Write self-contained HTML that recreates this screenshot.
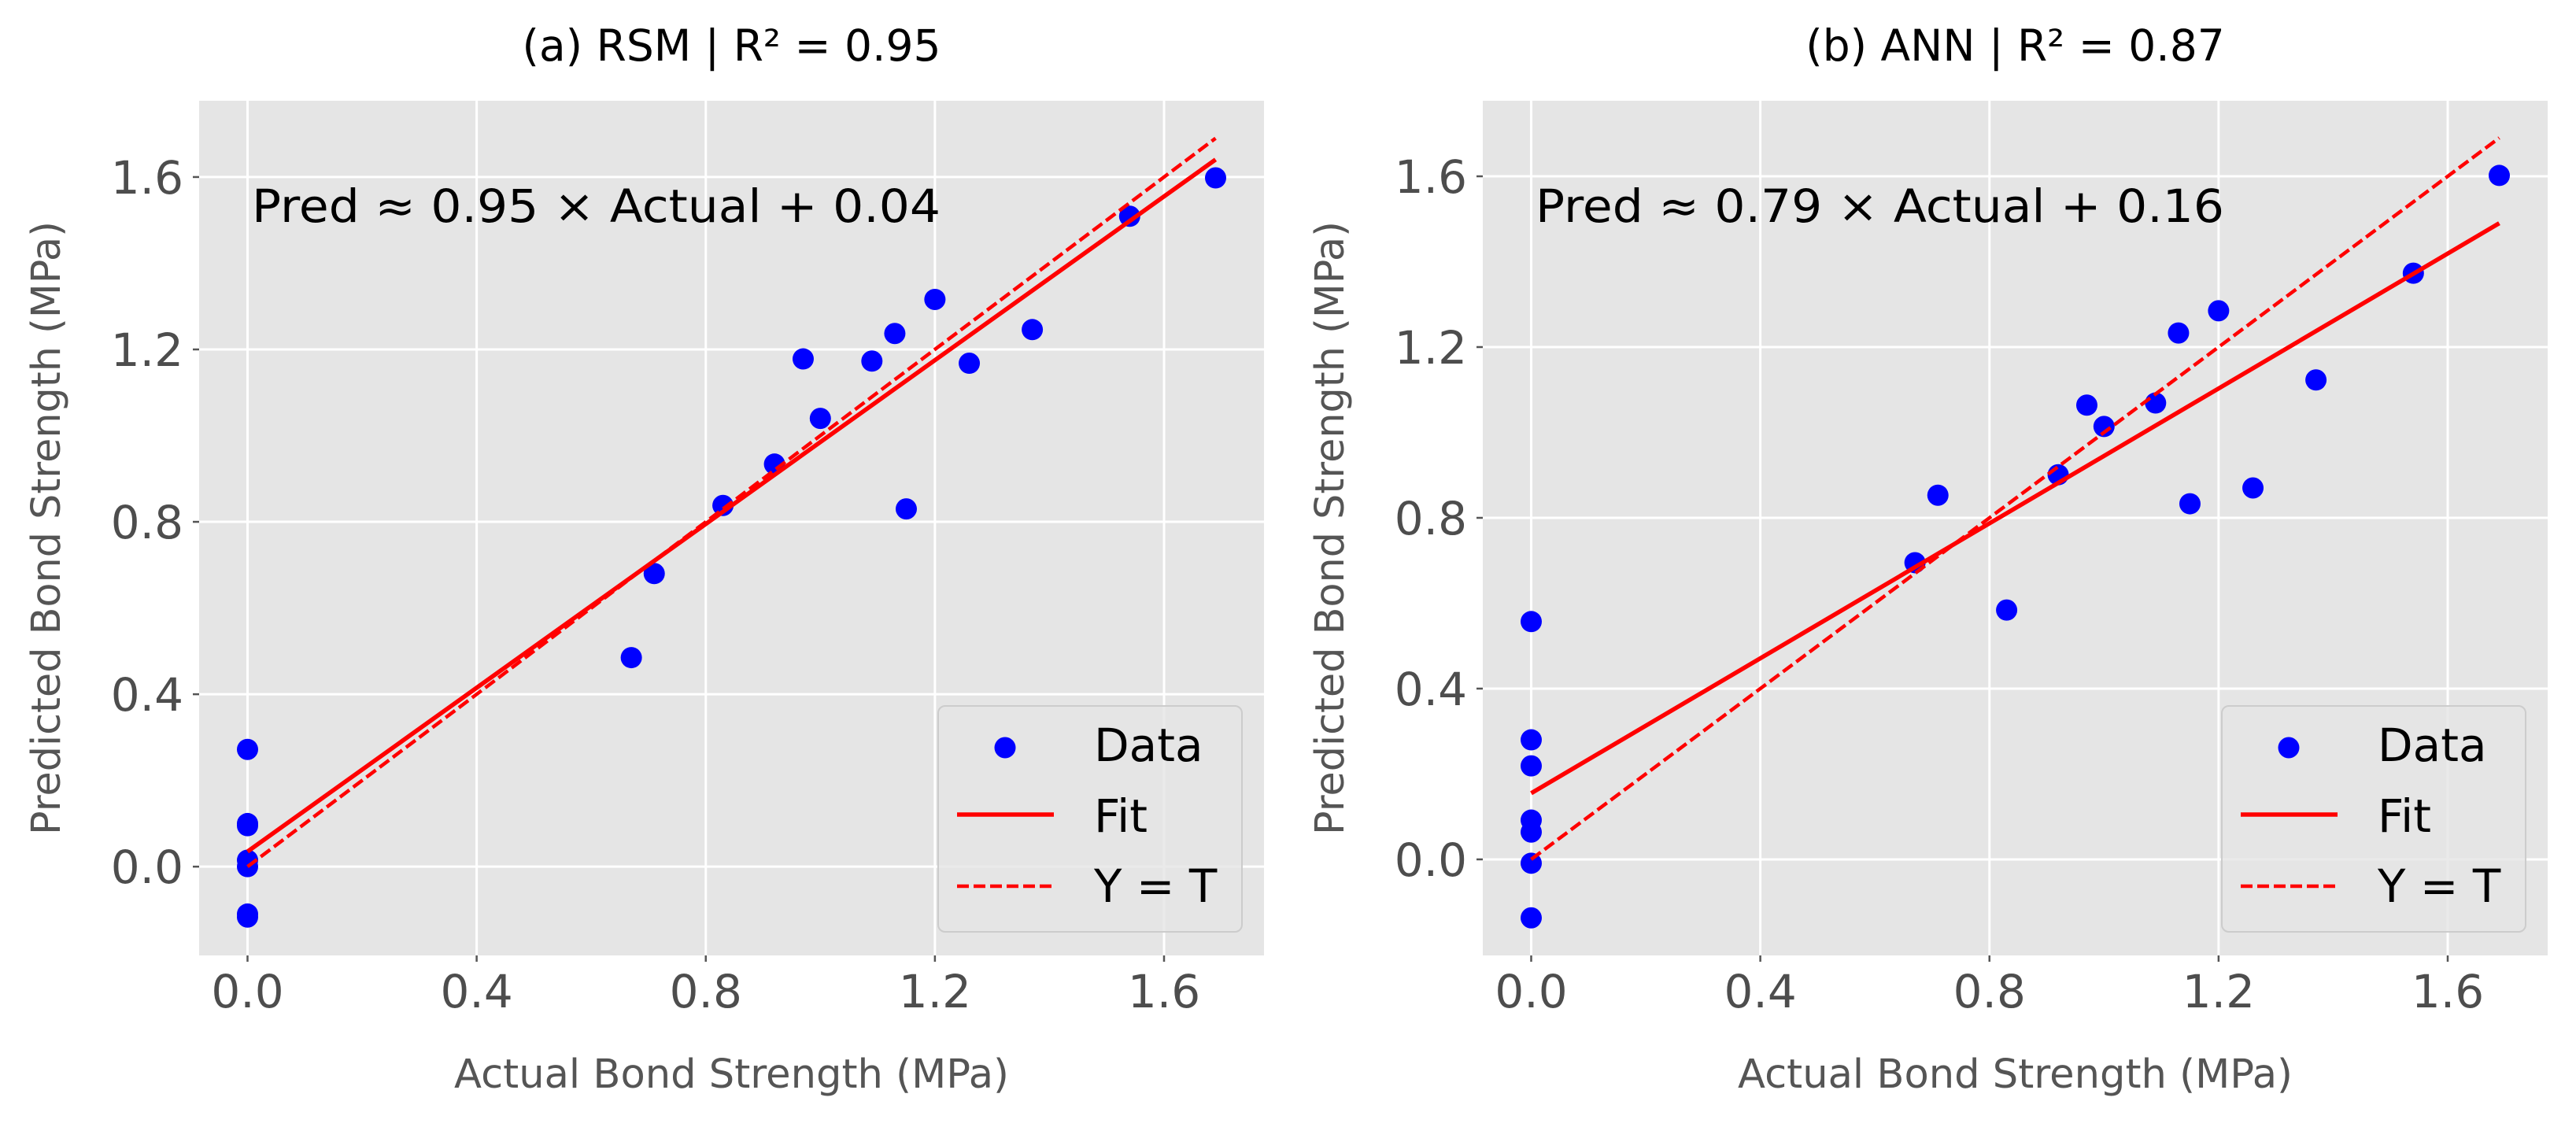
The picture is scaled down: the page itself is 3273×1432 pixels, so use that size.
<!DOCTYPE html>
<html><head><meta charset="utf-8"><style>
html,body{margin:0;padding:0;background:#fff}
svg{display:block}
text{font-family:"DejaVu Sans","Liberation Sans",sans-serif}
</style></head><body>
<svg id="chart" width="3273" height="1432" viewBox="0 0 3273 1432" xmlns="http://www.w3.org/2000/svg"></svg>
<script>
const xTicks = [0.0, 0.4, 0.8, 1.2, 1.6];
const yTicks = [0.0, 0.4, 0.8, 1.2, 1.6];
const tickLabels = ["0.0", "0.4", "0.8", "1.2", "1.6"];
const rsmActual = [0, 0, 0, 0, 0, 0, 0, 0.67, 0.71, 0.83, 0.92, 0.97, 1.0, 1.09, 1.13, 1.15, 1.2, 1.26, 1.37, 1.54, 1.69];
const rsmPred = [0.272, 0.100, 0.095, 0.015, 0.0, -0.11, -0.117, 0.485, 0.68, 0.838, 0.934, 1.178, 1.04, 1.173, 1.237, 0.830, 1.316, 1.168, 1.246, 1.509, 1.598];
const annActual = [0, 0, 0, 0, 0, 0, 0, 0.67, 0.71, 0.83, 0.92, 0.97, 1.0, 1.09, 1.13, 1.15, 1.2, 1.26, 1.37, 1.54, 1.69];
const annPred = [0.557, 0.280, 0.219, 0.092, 0.064, -0.009, -0.137, 0.695, 0.853, 0.584, 0.901, 1.064, 1.014, 1.069, 1.233, 0.833, 1.285, 0.870, 1.123, 1.373, 1.602];
const rsmFit = [0.95, 0.035];
const annFit = [0.79, 0.155];
const titles = ["(a) RSM | R² = 0.95", "(b) ANN | R² = 0.87"];
const equations = ["Pred ≈ 0.95 × Actual + 0.04", "Pred ≈ 0.79 × Actual + 0.16"];

const NS = "http://www.w3.org/2000/svg";
const svg = document.getElementById("chart");
function mk(tag, attrs, parent) {
  const e = document.createElementNS(NS, tag);
  for (const k in attrs) e.setAttribute(k, attrs[k]);
  (parent || svg).appendChild(e);
  return e;
}

function panel(cfg) {
  const g = mk("g", {});
  
  
  const L = cfg.left, R = cfg.left + 1353, T = 128, B = 1214;
  const xmin = -0.0845, xmax = 1.7745;
  const sx = v => L + (v - xmin) / (xmax - xmin) * (R - L);
  const sy = v => B - (v - cfg.ymin) / (cfg.ymax - cfg.ymin) * (B - T);

  const bg = mk("rect", {x: L, y: T, width: R - L, height: B - T, fill: "#e5e5e5"}, g);
  
  

  xTicks.forEach((t, i) => {
    const gl = mk("line", {x1: sx(t), x2: sx(t), y1: T, y2: B, stroke: "#fff", "stroke-width": 3}, g);
    
    
    const tk = mk("line", {x1: sx(t), x2: sx(t), y1: B, y2: B + 8, stroke: "#555", "stroke-width": 2.5}, g);
    
    
    const tl = mk("text", {x: sx(t), y: 1280, "text-anchor": "middle", "font-size": 58, fill: "#4d4d4d"}, g);
    tl.textContent = tickLabels[i];
    
    
  });
  yTicks.forEach((t, i) => {
    const gl = mk("line", {x1: L, x2: R, y1: sy(t), y2: sy(t), stroke: "#fff", "stroke-width": 3}, g);
    
    
    const tk = mk("line", {x1: L - 8, x2: L, y1: sy(t), y2: sy(t), stroke: "#555", "stroke-width": 2.5}, g);
    
    
    const tl = mk("text", {x: L - 20, y: sy(t) + 21, "text-anchor": "end", "font-size": 58, fill: "#4d4d4d"}, g);
    tl.textContent = tickLabels[i];
    
    
  });

  cfg.actual.forEach((a, i) => {
    const c = mk("circle", {cx: sx(a), cy: sy(cfg.pred[i]), r: 13.5, fill: "#0000ff"}, g);
    
    
  });

  const amax = Math.max(...cfg.actual), amin = Math.min(...cfg.actual);
  const fit = mk("line", {x1: sx(amin), y1: sy(cfg.fit[0] * amin + cfg.fit[1]), x2: sx(amax), y2: sy(cfg.fit[0] * amax + cfg.fit[1]), stroke: "#ff0000", "stroke-width": 5.5}, g);
  
  
  const idl = mk("line", {x1: sx(amin), y1: sy(amin), x2: sx(amax), y2: sy(amax), stroke: "#ff0000", "stroke-width": 4.5, "stroke-dasharray": "15 6"}, g);
  
  

  const eq = mk("text", {x: L + 67, y: 282, "font-size": 58, fill: "#000", textLength: 875, lengthAdjust: "spacingAndGlyphs"}, g);
  eq.textContent = cfg.eq;
  
  

  const tt = mk("text", {x: (L + R) / 2, y: 77, "text-anchor": "middle", "font-size": 55, fill: "#000"}, g);
  tt.textContent = cfg.title;
  
  

  const xl = mk("text", {x: (L + R) / 2, y: 1382, "text-anchor": "middle", "font-size": 51, fill: "#555", textLength: 705, lengthAdjust: "spacingAndGlyphs"}, g);
  xl.textContent = "Actual Bond Strength (MPa)";
  
  

  const yc = L - 195;
  const yl = mk("text", {x: yc, y: 671, "text-anchor": "middle", "font-size": 51, fill: "#555", transform: "rotate(-90 " + yc + " 671)", dy: 18, textLength: 780, lengthAdjust: "spacingAndGlyphs"}, g);
  yl.textContent = "Predicted Bond Strength (MPa)";
  
  

  const lg = mk("g", {}, g);
  
  
  const lx = R - 28 - 386, ly = 897;
  mk("rect", {x: lx, y: ly, width: 386, height: 287, rx: 9, fill: "rgba(229,229,229,0.8)", stroke: "#cccccc", "stroke-width": 2}, lg);
  const m = mk("circle", {cx: lx + 85, cy: ly + 53, r: 13.5, fill: "#0000ff"}, lg);
  
  
  const l1 = mk("line", {x1: lx + 24, x2: lx + 147, y1: ly + 138, y2: ly + 138, stroke: "#ff0000", "stroke-width": 5.5}, lg);
  
  
  const l2 = mk("line", {x1: lx + 24, x2: lx + 147, y1: ly + 229, y2: ly + 229, stroke: "#ff0000", "stroke-width": 4.5, "stroke-dasharray": "15 6"}, lg);
  
  
  [["Data", 70], ["Fit", 160], ["Y = T", 249]].forEach(([s, dy]) => {
    const t = mk("text", {x: lx + 198, y: ly + dy, "font-size": 58, fill: "#000"}, lg);
    t.textContent = s;
    
    
  });
}

panel({name: "rsm-panel", left: 253, ymin: -0.206, ymax: 1.777, actual: rsmActual, pred: rsmPred, fit: rsmFit, title: titles[0], eq: equations[0]});
panel({name: "ann-panel", left: 1884, ymin: -0.225, ymax: 1.777, actual: annActual, pred: annPred, fit: annFit, title: titles[1], eq: equations[1]});
</script>
</body></html>
